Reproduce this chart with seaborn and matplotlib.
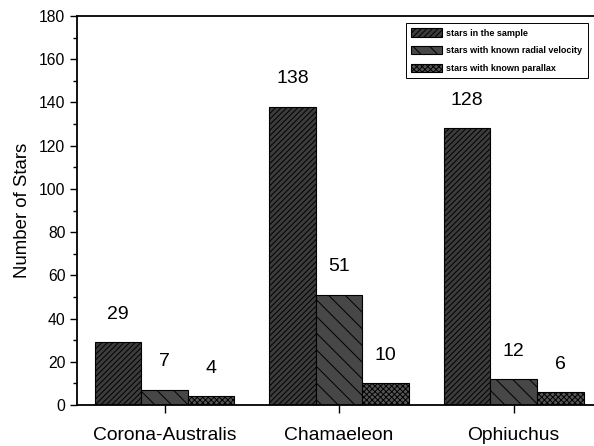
import matplotlib
matplotlib.use('Agg')
import matplotlib.pyplot as plt
import seaborn as sns
import pandas as pd

regions = ['Corona-Australis', 'Chamaeleon', 'Ophiuchus']
series = ['stars in the sample', 'stars with known radial velocity', 'stars with known parallax']
sample = [29, 138, 128]
radial_velocity = [7, 51, 12]
parallax = [4, 10, 6]
LABEL_GAP = 9  # data units between bar top and its number

df = pd.DataFrame({
    'region': regions * 3,
    'kind': [s for s in series for _ in regions],
    'count': sample + radial_velocity + parallax,
})

sns.set_style('ticks')
plt.rcParams['font.family'] = ['Liberation Sans', 'DejaVu Sans']
plt.rcParams['text.color'] = 'black'
plt.rcParams['xtick.color'] = 'black'
plt.rcParams['ytick.color'] = 'black'
plt.rcParams['axes.labelcolor'] = 'black'
plt.rcParams['axes.edgecolor'] = 'black'
plt.rcParams['hatch.linewidth'] = 0.7

fig = plt.figure(figsize=(5.94, 4.46), dpi=100)
ax = fig.add_axes([0.13, 0.092, 0.87, 0.872])

sns.barplot(data=df, x='region', y='count', hue='kind', order=regions, hue_order=series,
            palette=['#3c3c3c', '#474747', '#555555'], edgecolor='black', linewidth=0.8,
            saturation=1, width=0.8, legend=False, ax=ax)

hatches = ['//////', '\\\\', 'xxxxxx']
for cont, h in zip(ax.containers, hatches):
    for p in cont.patches:
        p.set_hatch(h)

for cont, vals in zip(ax.containers, [sample, radial_velocity, parallax]):
    for p, v in zip(cont.patches, vals):
        ax.text(p.get_x() + p.get_width() / 2, v + LABEL_GAP, str(v),
                ha='center', va='bottom', fontsize=14)

leg = ax.legend(ax.containers, series, loc='upper right', bbox_to_anchor=(0.988, 0.982),
                borderaxespad=0, prop={'weight': 'bold', 'size': 6.5}, frameon=True,
                fancybox=False, edgecolor='black', handlelength=3.4, handleheight=1.0,
                borderpad=0.6, labelspacing=0.95, handletextpad=0.5)
leg.get_frame().set_linewidth(0.7)
leg.get_frame().set_alpha(1)

ax.set_ylim(0, 180)
ax.set_xlim(-0.5, 2.46)
ax.set_yticks(range(0, 181, 20))
ax.set_yticks(range(0, 181, 10), minor=True)
ax.tick_params(axis='y', which='major', length=5, width=1, labelsize=11.3)
ax.tick_params(axis='y', which='minor', length=3, width=1)
ax.tick_params(axis='x', length=6, width=1, labelsize=13.9, pad=10)
ax.set_xlabel('')
ax.set_ylabel('Number of Stars', fontsize=13.4, labelpad=6)
for s in ['left', 'bottom', 'top']:
    ax.spines[s].set_linewidth(1.3)
ax.spines['right'].set_visible(False)

fig.savefig('out.png', dpi=100)
